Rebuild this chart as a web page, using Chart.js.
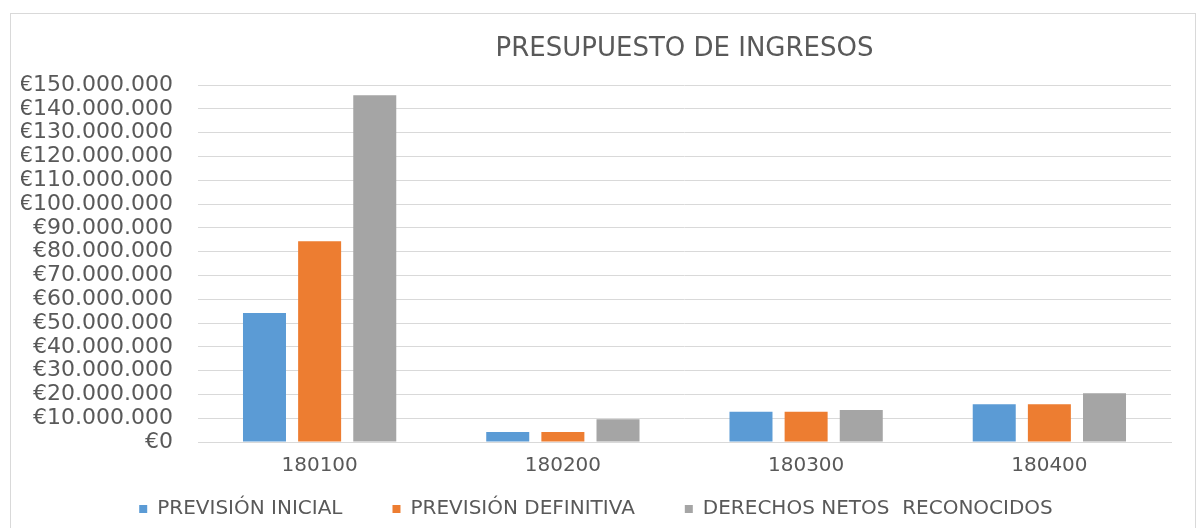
<!DOCTYPE html>
<html>
<head>
<meta charset="utf-8">
<script src="https://cdn.jsdelivr.net/npm/chart.js@4/dist/chart.umd.min.js"></script>
<style>
  body { margin: 0; background: #fff; }
  #box { position: absolute; left: 10px; top: 13px; width: 1186px; height: 520px; border: 1px solid #d9d9d9; box-sizing: border-box; }
  #myChart { position: absolute; left: 0; top: 0; }
</style>
</head>
<body>
<div id="box"><canvas id="myChart" width="1184" height="518"></canvas></div>
<script>
// datos
var categorias = ["180100", "180200", "180300", "180400"];
var previsionInicial = [54200000, 4200000, 12700000, 15900000];
var previsionDefinitiva = [84400000, 4200000, 12700000, 15900000];
var derechosNetos = [145800000, 9600000, 13500000, 20500000];

var colores = ["#5b9bd5", "#ed7d31", "#a5a5a5"];
var textoGris = "#595959";
var fuente = "'DejaVu Sans', sans-serif";

function formatoEuro(valor) {
    return "€" + valor.toString().replace(/\B(?=(\d{3})+(?!\d))/g, ".");
}

// la leyenda usa padding grande para separar los items, se sube para compensar
var subirLeyenda = {
  id: 'subirLeyenda',
  afterLayout: function(chart) {
    chart.legend.top -= 30;
    chart.legend.bottom -= 30;
  }
};

var ctx = document.getElementById("myChart");
var myChart = new Chart(ctx, {
  type: 'bar',
  data: {
    labels: categorias,
    datasets: [
      { label: 'PREVISIÓN INICIAL', data: previsionInicial, backgroundColor: colores[0] },
      { label: 'PREVISIÓN DEFINITIVA', data: previsionDefinitiva, backgroundColor: colores[1] },
      { label: 'DERECHOS NETOS  RECONOCIDOS', data: derechosNetos, backgroundColor: colores[2] }
    ]
  },
  plugins: [subirLeyenda],
  options: {
    responsive: false,
    animation: false,
    layout: { padding: { left: 10, right: 24, top: 0, bottom: -27 } },
    datasets: { bar: { barPercentage: 0.78, categoryPercentage: 0.68 } },
    plugins: {
      title: {
        display: true,
        fullSize: false,
        text: 'PRESUPUESTO DE INGRESOS',
        color: textoGris,
        font: { family: fuente, size: 26, weight: 'normal' },
        padding: { top: 20, bottom: 20 }
      },
      legend: {
        position: 'bottom',
        labels: {
          color: textoGris,
          font: { family: fuente, size: 20 },
          boxWidth: 8, boxHeight: 8,
          padding: 50
        }
      },
      tooltip: { enabled: false }
    },
    scales: {
      x: {
        afterFit: function(scale) { scale.height = 37; },
        grid: { display: false, drawTicks: false },
        border: { color: '#d9d9d9' },
        ticks: { color: textoGris, font: { family: fuente, size: 20 }, padding: 12 }
      },
      y: {
        afterFit: function(scale) { scale.width = 177; },
        min: 0, max: 150000000,
        grid: { color: '#d9d9d9', drawTicks: false },
        border: { display: false },
        ticks: {
          stepSize: 10000000,
          autoSkip: false,
          color: textoGris,
          font: { family: fuente, size: 22 },
          padding: 25,
          callback: function(v) { return formatoEuro(v); }
        }
      }
    }
  }
});
</script>
</body>
</html>
